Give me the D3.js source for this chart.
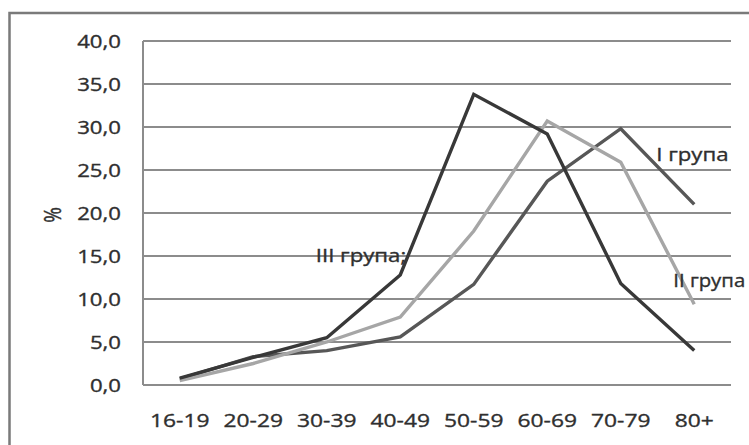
<!DOCTYPE html>
<html>
<head>
<meta charset="utf-8">
<script src="https://cdn.jsdelivr.net/npm/d3@7"></script>
<style>
  html, body { margin: 0; padding: 0; background: #ffffff; }
  svg { display: block; }
  text { font-family: "Open Sans", "Noto Sans", sans-serif; fill: #2f2f2f; stroke: #2f2f2f; stroke-width: 0.35px; }
</style>
</head>
<body>
<svg id="chart" width="749" height="445"></svg>
<script>
// ---- data ----
const categories = ["16-19", "20-29", "30-39", "40-49", "50-59", "60-69", "70-79", "80+"];
const groupI   = [0.7, 3.3, 4.0, 5.6, 11.7, 23.7, 29.8, 21.0];
const groupII  = [0.5, 2.5, 5.0, 7.9, 17.9, 30.7, 25.9, 9.4];
const groupIII = [0.8, 3.2, 5.5, 12.8, 33.8, 29.2, 11.8, 4.0];
const seriesNames = ["I група", "II група", "III група;"];
const yTicks = [0, 5, 10, 15, 20, 25, 30, 35, 40];
const yTitle = "%";

const series = [
  { name: seriesNames[0], values: groupI,   color: "#575757", label: { cat: "80+",   dx: -38, val: 26.7, sx: 1.2 } },
  { name: seriesNames[1], values: groupII,  color: "#a6a6a6", label: { cat: "80+",   dx: -21, val: 12.1, sx: 1.1 } },
  { name: seriesNames[2], values: groupIII, color: "#383838", label: { cat: "30-39", dx: -11, val: 15.0, sx: 1.2 } }
];

const svg = d3.select("#chart");
const W = 749, H = 445;
const plot = { left: 143, right: 731, top: 41, bottom: 385 };
const SX = 1.2; // horizontal stretch of the original's text

// frame
svg.append("rect").attr("x", 0).attr("y", 0).attr("width", W).attr("height", H).attr("fill", "#ffffff");
svg.append("rect").attr("x", 9.5).attr("y", 13).attr("width", W + 20).attr("height", H + 20)
  .attr("fill", "none").attr("stroke", "#7a7a7a").attr("stroke-width", 2.5);

const x = d3.scalePoint().domain(categories).range([plot.left, plot.right]).padding(0.5);
const y = d3.scaleLinear().domain([0, 40]).range([plot.bottom, plot.top]);

function stretchedText(g, tx, ty, str, anchor, size, sx) {
  return g.append("text")
    .attr("transform", `translate(${tx},${ty}) scale(${sx || SX},1)`)
    .attr("text-anchor", anchor)
    .style("font-size", size + "px")
    .text(str);
}

// gridlines
const grid = svg.append("g");
grid.selectAll("line").data(yTicks).join("line")
  .attr("x1", plot.left).attr("x2", plot.right)
  .attr("y1", d => y(d)).attr("y2", d => y(d))
  .attr("stroke", "#8c8c8c").attr("stroke-width", 2);
// left axis line
svg.append("line").attr("x1", plot.left).attr("x2", plot.left)
  .attr("y1", y(40)).attr("y2", y(0)).attr("stroke", "#8c8c8c").attr("stroke-width", 2);

// y tick labels
const fmt = d => d3.format(".1f")(d).replace(".", ",");
const yl = svg.append("g");
yTicks.forEach(t => stretchedText(yl, 121, y(t) + 6.5, fmt(t), "end", 18.5));

// x tick labels
const xl = svg.append("g");
categories.forEach(c => stretchedText(xl, x(c), 427, c, "middle", 19));

// y title
svg.append("text")
  .attr("transform", `translate(${61},${215}) rotate(-90) scale(1,${SX})`)
  .attr("text-anchor", "middle")
  .style("font-size", "19px")
  .text(yTitle);

// lines
const line = d3.line().x((d, i) => x(categories[i])).y(d => y(d));
const lg = svg.append("g");
series.forEach(s => {
  lg.append("path").datum(s.values)
    .attr("d", line)
    .attr("fill", "none")
    .attr("stroke", s.color)
    .attr("stroke-width", 3.4)
    .attr("stroke-linejoin", "miter");
});

// series labels
const lab = svg.append("g");
series.forEach(s => {
  stretchedText(lab, x(s.label.cat) + s.label.dx, y(s.label.val) + 6, s.name, "start", 18.5, s.label.sx);
});
</script>
</body>
</html>
